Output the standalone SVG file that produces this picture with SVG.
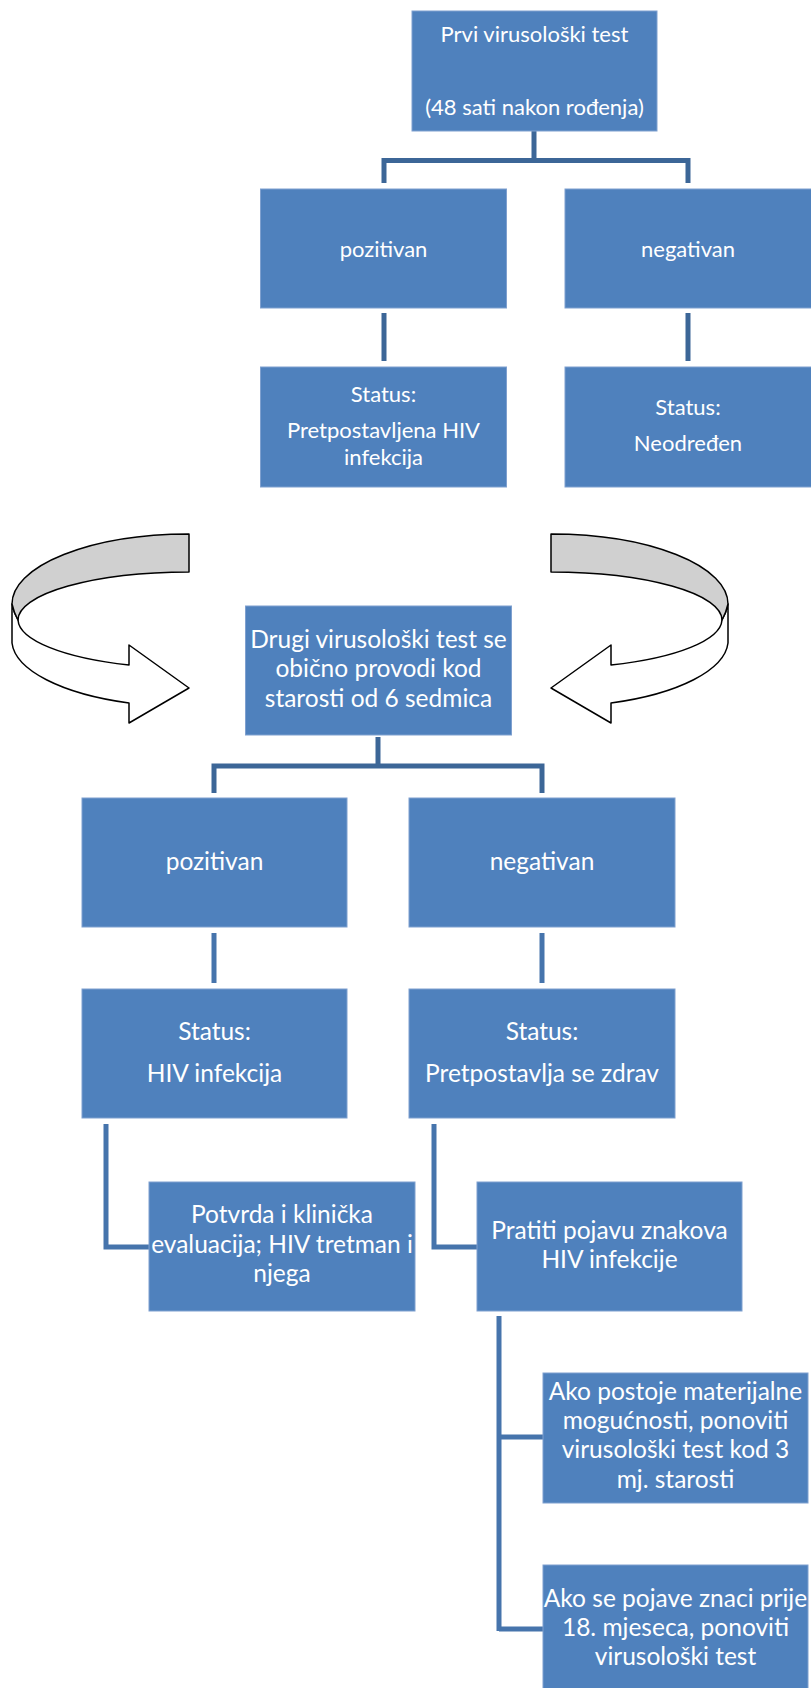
<svg xmlns="http://www.w3.org/2000/svg" width="811" height="1688" viewBox="0 0 811 1688">
<style>
.box{fill:#4F81BD;stroke:#7FA0CF;stroke-width:1}
.t{font-family:Lato,"Liberation Sans",sans-serif;fill:#FFFFFF;text-anchor:middle}
.s{font-size:22px}
.m{font-size:24.5px}
.c1{fill:none;stroke:#3C6697;stroke-width:5}
.c2{fill:none;stroke:#4674AC;stroke-width:5}
.ag{fill:#D0D0D0;stroke:#000;stroke-width:1.5;stroke-linejoin:round}
.aw{fill:#FFFFFF;stroke:#000;stroke-width:1.5;stroke-linejoin:round}
</style>
<rect width="811" height="1688" fill="#FFFFFF"/>
<defs>
<g id="curvedArrow">
<path class="aw" d="M12,604 L12,643 A177,67 0 0 0 129,703 L129,723 L189,688 L129,645 L129,665 A171,49 0 0 1 18,620 Q14,613 12,604 Z"/>
<path class="ag" d="M189,534 A177,70 0 0 0 12,604 Q14,613 18,620 A171,48 0 0 1 189,572 Z"/>
</g>
</defs>
<g id="connectors">
<path class="c1" d="M534,131 V160.5 M384,183 V160.5 H688 V183"/>
<path class="c1" d="M384,313 V361 M688,313 V361"/>
<path class="c1" d="M378,737 V766 M214,793 V766 H542 V793"/>
<path class="c2" d="M214,933 V983 M542,933 V983"/>
<path class="c2" d="M106,1124 V1247 H149"/>
<path class="c2" d="M434,1124 V1247 H477"/>
<path class="c2" d="M499,1316 V1631 M499,1437 H543 M499,1629 H543"/>
</g>
<g id="arrow-left"><use href="#curvedArrow"/></g>
<g id="arrow-right"><use href="#curvedArrow" transform="translate(740,0) scale(-1,1)"/></g>
<g id="n1"><rect class="box" x="412" y="11" width="245" height="120"/>
<text class="t s" x="534.5" y="42">Prvi virusološki test</text>
<text class="t s" x="534.5" y="115">(48 sati nakon rođenja)</text></g>
<g id="n2"><rect class="box" x="260.5" y="189" width="246" height="119"/>
<text class="t s" x="383.5" y="257">pozitivan</text></g>
<g id="n3"><rect class="box" x="565" y="189" width="247" height="119"/>
<text class="t s" x="688" y="257">negativan</text></g>
<g id="n4"><rect class="box" x="260.5" y="367" width="246" height="120"/>
<text class="t s" x="383.5" y="402">Status:</text>
<text class="t s" x="383.5" y="438">Pretpostavljena HIV</text>
<text class="t s" x="383.5" y="465">infekcija</text></g>
<g id="n5"><rect class="box" x="565" y="367" width="247" height="120"/>
<text class="t s" x="688" y="415">Status:</text>
<text class="t s" x="688" y="451">Neodređen</text></g>
<g id="n6"><rect class="box" x="245.5" y="606" width="266" height="129"/>
<text class="t m" x="378.5" y="648">Drugi virusološki test se</text>
<text class="t m" x="378.5" y="677">obično provodi kod</text>
<text class="t m" x="378.5" y="707">starosti od 6 sedmica</text></g>
<g id="n7"><rect class="box" x="82" y="798" width="265" height="129"/>
<text class="t m" x="214.5" y="870">pozitivan</text></g>
<g id="n8"><rect class="box" x="409" y="798" width="266" height="129"/>
<text class="t m" x="542" y="870">negativan</text></g>
<g id="n9"><rect class="box" x="82" y="989" width="265" height="129"/>
<text class="t m" x="214.5" y="1040">Status:</text>
<text class="t m" x="214.5" y="1082">HIV infekcija</text></g>
<g id="n10"><rect class="box" x="409" y="989" width="266" height="129"/>
<text class="t m" x="542" y="1040">Status:</text>
<text class="t m" x="542" y="1082">Pretpostavlja se zdrav</text></g>
<g id="n11"><rect class="box" x="149" y="1182" width="266" height="129"/>
<text class="t m" x="282" y="1223">Potvrda i klinička</text>
<text class="t m" x="282" y="1253">evaluacija; HIV tretman i</text>
<text class="t m" x="282" y="1282">njega</text></g>
<g id="n12"><rect class="box" x="477" y="1182" width="265" height="129"/>
<text class="t m" x="609.5" y="1239">Pratiti pojavu znakova</text>
<text class="t m" x="609.5" y="1268">HIV infekcije</text></g>
<g id="n13"><rect class="box" x="543" y="1373" width="265" height="130"/>
<text class="t m" x="675.5" y="1400">Ako postoje materijalne</text>
<text class="t m" x="675.5" y="1429">mogućnosti, ponoviti</text>
<text class="t m" x="675.5" y="1458">virusološki test kod 3</text>
<text class="t m" x="675.5" y="1488">mj. starosti</text></g>
<g id="n14"><rect class="box" x="543" y="1565" width="265" height="130"/>
<text class="t m" x="675.5" y="1607">Ako se pojave znaci prije</text>
<text class="t m" x="675.5" y="1636">18. mjeseca, ponoviti</text>
<text class="t m" x="675.5" y="1665">virusološki test</text></g>
</svg>
